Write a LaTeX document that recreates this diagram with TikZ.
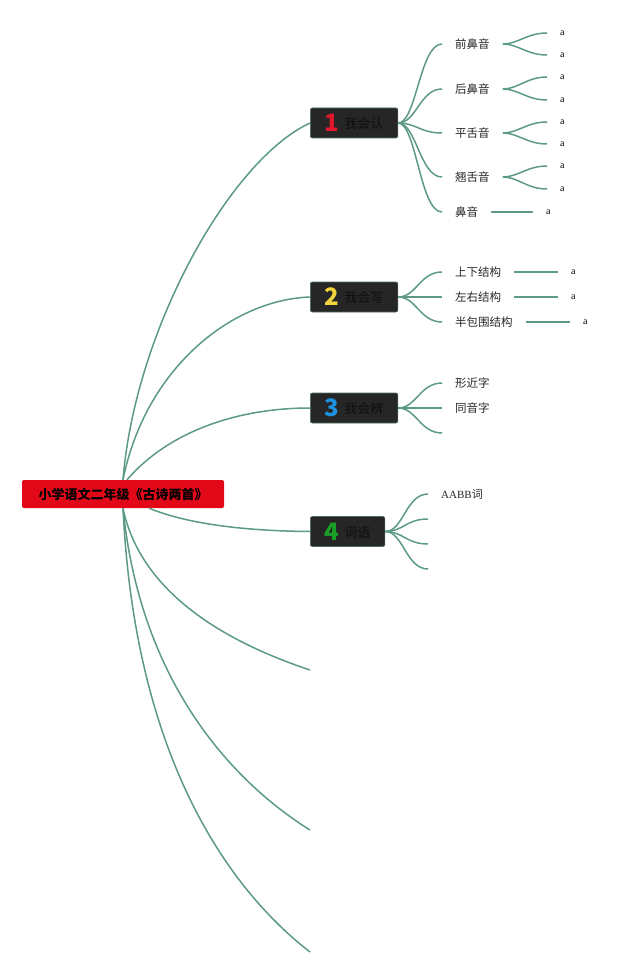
\documentclass[tikz,border=0pt]{standalone}
\usepackage{fontspec}
\setmainfont{Liberation Serif}
\newfontfamily\cjk{Noto Sans CJK SC}
\definecolor{branchgreen}{RGB}{92,154,132}
\definecolor{rootred}{RGB}{226,8,24}
\definecolor{topicgray}{RGB}{38,38,38}
\definecolor{topicedge}{RGB}{78,110,98}
\definecolor{topictext}{RGB}{14,14,14}
\definecolor{numred}{RGB}{226,22,44}
\definecolor{numyellow}{RGB}{242,212,60}
\definecolor{numblue}{RGB}{30,144,224}
\definecolor{numgreen}{RGB}{26,160,40}
\newcommand\topiclabel[3]{{\cjk\bfseries\fontsize{24}{24}\selectfont\color{#1}#2}\hspace{5pt}\raisebox{3pt}{\cjk\fontsize{13}{14}\selectfont #3}}
\begin{document}
\begin{tikzpicture}[x=1pt,y=-1pt,
  branch/.style={draw=branchgreen,line width=1.5pt},
  topic/.style={draw=topicedge,line width=0.6pt,fill=topicgray,rounded corners=2pt,minimum height=30pt,inner xsep=14.5pt,inner ysep=2pt,text=topictext,anchor=west},
  sub/.style={anchor=west,inner xsep=13pt,inner ysep=1pt,font=\cjk\fontsize{11.5}{13}\selectfont,text=black!85},
  leaf/.style={anchor=west,inner xsep=13pt,inner ysep=0pt,font=\fontsize{10}{11}\selectfont}]
\useasboundingbox (0,0) rectangle (640,973);
% centre and main topics
\node[fill=rootred,rounded corners=2pt,minimum width=202pt,minimum height=28pt,font=\cjk\bfseries\fontsize{13}{14}\selectfont] (root) at (123,494) {小学语文二年级《古诗两首》};
\node[topic] (t1) at (310,123) {\topiclabel{numred}{1}{我会认}};
\node[topic] (t2) at (310,297) {\topiclabel{numyellow}{2}{我会写}};
\node[topic] (t3) at (310,408) {\topiclabel{numblue}{3}{我会辨}};
\node[topic] (t4) at (310,531.5) {\topiclabel{numgreen}{4}{词语}};
\coordinate (m5) at (310,670);
\coordinate (m6) at (310,830);
\coordinate (m7) at (310,952);
\draw[branch] (root.north) .. controls (135,330) and (230,160) .. (t1.west);
\draw[branch] (root.north) .. controls (145,370) and (230,300) .. (t2.west);
\draw[branch] ([xshift=4]root.north) .. controls (170,430) and (240,408) .. (t3.west);
\draw[branch] ([xshift=26]root.south) .. controls (190,525) and (250,531) .. (t4.west);
\draw[branch] (root.south) .. controls (140,590) and (220,640) .. (m5);
\draw[branch] (root.south) .. controls (140,680) and (230,780) .. (m6);
\draw[branch] (root.south) .. controls (135,760) and (230,890) .. (m7);
% 1 我会认
\node[sub] (s1) at (442,44) {前鼻音};
\node[sub] (s2) at (442,89) {后鼻音};
\node[sub] (s3) at (442,133) {平舌音};
\node[sub] (s4) at (442,177) {翘舌音};
\node[sub] (s5) at (442,212) {鼻音};
\foreach \s in {s1,s2,s3,s4,s5}
  \draw[branch] (t1.east) .. controls +(18,0) and +(-22,0) .. (\s.west);
\node[leaf] (a1) at (547,33) {a};
\node[leaf] (a2) at (547,55) {a};
\node[leaf] (a3) at (547,77) {a};
\node[leaf] (a4) at (547,100) {a};
\node[leaf] (a5) at (547,122) {a};
\node[leaf] (a6) at (547,144) {a};
\node[leaf] (a7) at (547,166) {a};
\node[leaf] (a8) at (547,189) {a};
\node[leaf] (a9) at (533,212) {a};
\foreach \s/\a in {s1/a1,s1/a2,s2/a3,s2/a4,s3/a5,s3/a6,s4/a7,s4/a8}
  \draw[branch] (\s.east) .. controls +(15,0) and +(-20,0) .. (\a.west);
\draw[branch] (s5.east) -- (a9.west);
% 2 我会写
\node[sub] (s6) at (442,272) {上下结构};
\node[sub] (s7) at (442,297) {左右结构};
\node[sub] (s8) at (442,322) {半包围结构};
\node[leaf] (a10) at (558,272) {a};
\node[leaf] (a11) at (558,297) {a};
\node[leaf] (a12) at (570,322) {a};
\foreach \s/\a in {s6/a10,s7/a11,s8/a12} {
  \draw[branch] (t2.east) .. controls +(18,0) and +(-22,0) .. (\s.west);
  \draw[branch] (\s.east) -- (\a.west);
}
% 3 我会辨
\node[sub] (s9) at (442,383) {形近字};
\node[sub] (s10) at (442,408) {同音字};
\coordinate (e3) at (442,433);
\foreach \s in {s9.west,s10.west,e3}
  \draw[branch] (t3.east) .. controls +(18,0) and +(-22,0) .. (\s);
% 4 词语
\node[sub,font=\fontsize{11}{13}\selectfont] (s11) at (428,494) {AABB{\cjk 词}};
\coordinate (w1) at (428,519);
\coordinate (w2) at (428,544);
\coordinate (w3) at (428,569);
\foreach \s in {s11.west,w1,w2,w3}
  \draw[branch] (t4.east) .. controls +(18,0) and +(-22,0) .. (\s);
\end{tikzpicture}
\end{document}
